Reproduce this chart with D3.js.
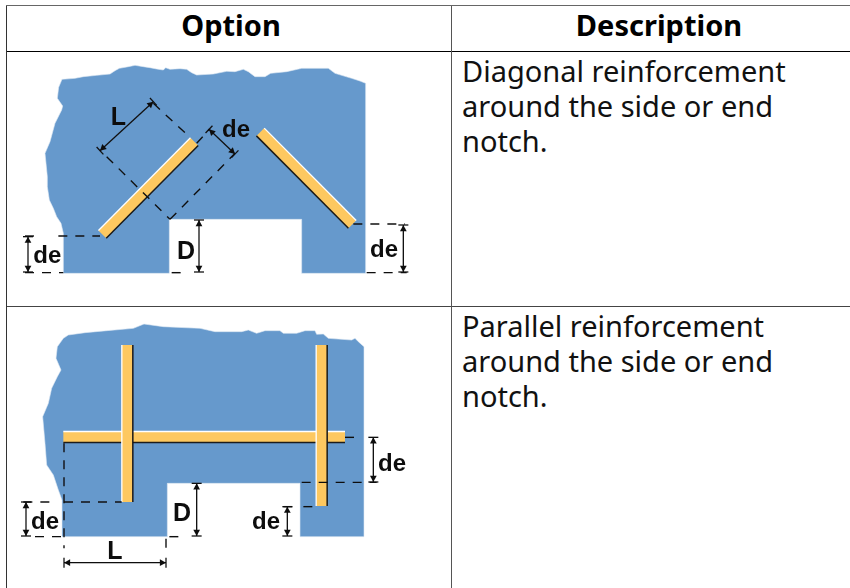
<!DOCTYPE html>
<html>
<head>
<meta charset="utf-8">
<script src="https://cdn.jsdelivr.net/npm/d3@7"></script>
<style>
html, body { margin: 0; padding: 0; background: #fff; }
svg { display: block; }
</style>
</head>
<body>
<svg id="chart" width="850" height="588">
  <defs>
    <filter id="soft" x="-5%" y="-5%" width="110%" height="110%"><feGaussianBlur stdDeviation="0.4"></feGaussianBlur></filter>
  </defs>
</svg>
<script>
// table text
var headers = ["Option", "Description"];
var descriptions = [
    ["Diagonal reinforcement", "around the side or end", "notch."],
    ["Parallel reinforcement", "around the side or end", "notch."]
];

// concrete outlines (units are 1/3 px)
var outline1 = [[190,820],[190,700],[183,670],[170,650],[160,625],[148,600],[142,560],[142,530],[135,460],[150,425],[165,370],[185,330],[188,318],[172,295],[176,262],[186,238],[225,235],[250,230],[290,226],[330,222],[345,212],[358,205],[385,200],[405,196],[430,200],[450,203],[470,207],[490,210],[497,203],[510,208],[540,206],[560,208],[575,218],[590,225],[640,222],[680,214],[705,215],[730,208],[745,215],[765,230],[795,230],[812,220],[860,215],[905,205],[985,205],[1005,220],[1055,235],[1080,243],[1097,250],[1097,820],[905,820],[905,658],[508,658],[508,820]];
var outline2 = [[186,710],[186,600],[175,570],[160,525],[140,495],[135,430],[128,350],[145,310],[155,265],[172,230],[183,210],[168,175],[172,140],[190,115],[205,105],[255,98],[320,92],[400,85],[432,72],[490,80],[600,85],[645,95],[725,95],[745,90],[770,100],[795,92],[840,92],[850,100],[890,100],[915,92],[945,92],[950,103],[970,102],[985,115],[1055,120],[1065,115],[1075,125],[1092,140],[1092,710],[900,710],[900,550],[502,550],[502,710]];

// reinforcing bars as [x1,y1,x2,y2] centre lines
var bars1 = [[307,703,583,425],[781,396,1057,673]];
var bars2 = [[190,411,1035,411],[382,135,382,606],[965,135,965,618]];

// dimension lines and dashed leaders
var arrows1 = [[300,452,460,305],[627,388,705,462],[84,710,84,816],[597,660,597,816],[1210,675,1210,816]];
var dashes1 = [[460,310,572,414],[320,470,510,658],[510,658,705,460],[590,430,628,388],[75,708,125,708],[175,708,300,708],[75,818,190,818],[515,818,550,818],[1060,672,1215,672],[1100,818,1220,818]];
var labels1 = [["L",355,375],["de",708,410],["de",142,790],["D",558,778],["de",1152,772]];

var arrows2 = [[192,788,498,788],[1120,412,1120,546],[590,550,590,708],[78,606,78,708],[862,620,862,708]];
var dashes2 = [[192,430,192,745],[192,606,365,606],[70,606,155,606],[105,710,190,710],[498,716,498,745],[508,710,545,710],[905,547,1130,547],[910,620,948,620],[850,620,888,620],[1035,412,1075,412]];
var labels2 = [["L",345,778],["de",1176,512],["de",135,688],["D",546,662],["de",798,688]];

var svg = d3.select("#chart");

// diagram units to page px
var x = d3.scaleLinear().domain([0, 3]).range([0, 1]);
var y1 = d3.scaleLinear().domain([0, 3]).range([0, 1]);
var y2 = d3.scaleLinear().domain([0, 3]).range([300, 301]);

function drawDiagram(outline, bars, dashes, arrows, labels, y) {
    var g = svg.append("g").attr("filter", "url(#soft)");
    var line = d3.line().x(function(d){ return x(d[0]); }).y(function(d){ return y(d[1]); });

    g.append("path")
     .attr("d", line(outline) + "Z")
     .attr("fill", "#6699cc")
     .attr("stroke", "#dfe9f4")
     .attr("stroke-width", 0.6);

    bars.forEach(function(b){
        var dx = x(b[2]) - x(b[0]), dy = y(b[3]) - y(b[1]);
        var len = Math.sqrt(dx*dx + dy*dy);
        var nx = -dy/len, ny = dx/len;
        // dark edge sits on the lower / right side
        if (ny < 0 || (ny == 0 && nx < 0)) { nx = -nx; ny = -ny; }
        var seg = function(off, col, w){
            g.append("line")
             .attr("x1", x(b[0]) + nx*off).attr("y1", y(b[1]) + ny*off)
             .attr("x2", x(b[2]) + nx*off).attr("y2", y(b[3]) + ny*off)
             .attr("stroke", col).attr("stroke-width", w);
        };
        seg(0, "#fdc860", 11);
        seg(5.5, "#1a1a1a", 1.5);
        seg(-5.5, "#ffffff", 1.3);
    });

    dashes.forEach(function(d){
        g.append("line")
         .attr("x1", x(d[0])).attr("y1", y(d[1]))
         .attr("x2", x(d[2])).attr("y2", y(d[3]))
         .attr("stroke", "#111").attr("stroke-width", 1.4)
         .attr("stroke-dasharray", "9,8");
    });

    arrows.forEach(function(d){
        var p1 = [x(d[0]), y(d[1])], p2 = [x(d[2]), y(d[3])];
        g.append("line")
         .attr("x1", p1[0]).attr("y1", p1[1]).attr("x2", p2[0]).attr("y2", p2[1])
         .attr("stroke", "#111").attr("stroke-width", 1.3);
        var a = Math.atan2(p2[1]-p1[1], p2[0]-p1[0]);
        [[p1, a], [p2, a + Math.PI]].forEach(function(e){
            var tip = e[0], t = e[1], s = 7;
            var tri = [tip,
                [tip[0] + s*Math.cos(t+0.5), tip[1] + s*Math.sin(t+0.5)],
                [tip[0] + s*Math.cos(t-0.5), tip[1] + s*Math.sin(t-0.5)]];
            g.append("path").attr("d", d3.line()(tri) + "Z").attr("fill", "#111");
            g.append("line")
             .attr("x1", tip[0] - 5*Math.sin(t)).attr("y1", tip[1] + 5*Math.cos(t))
             .attr("x2", tip[0] + 5*Math.sin(t)).attr("y2", tip[1] - 5*Math.cos(t))
             .attr("stroke", "#111").attr("stroke-width", 1.3);
        });
    });

    labels.forEach(function(l){
        g.append("text")
         .attr("x", x(l[1])).attr("y", y(l[2]))
         .attr("text-anchor", "middle")
         .attr("font-family", "'Liberation Sans'")
         .attr("font-weight", "bold")
         .attr("font-size", l[0] == "de" ? 24 : 25)
         .attr("fill", "#111")
         .text(l[0]);
    });
}

drawDiagram(outline1, bars1, dashes1, arrows1, labels1, y1);
drawDiagram(outline2, bars2, dashes2, arrows2, labels2, y2);

// table rules
var rules = [[6,5.5,850,5.5,"#666"],[6,51.5,850,51.5,"#000"],[6,306.5,850,306.5,"#444"],[6.5,6,6.5,588,"#333"],[451.5,6,451.5,588,"#555"]];
svg.selectAll(".rule").data(rules).enter().append("line")
   .attr("class", "rule")
   .attr("x1", function(d){ return d[0]; }).attr("y1", function(d){ return d[1]; })
   .attr("x2", function(d){ return d[2]; }).attr("y2", function(d){ return d[3]; })
   .attr("stroke", function(d){ return d[4]; }).attr("stroke-width", 1);

svg.selectAll(".head").data(headers).enter().append("text")
   .attr("class", "head")
   .attr("x", function(d, i){ return i == 0 ? 231 : 659; })
   .attr("y", 36)
   .attr("text-anchor", "middle")
   .attr("font-family", "'Noto Sans'")
   .attr("font-weight", "bold")
   .attr("font-size", 29)
   .attr("fill", "#000")
   .text(function(d){ return d; });

descriptions.forEach(function(lines, r){
    lines.forEach(function(t, i){
        svg.append("text")
           .attr("x", 462)
           .attr("y", (r == 0 ? 82 : 337) + i*34.8)
           .attr("font-family", "'Noto Sans'")
           .attr("font-size", 29)
           .attr("fill", "#111")
           .text(t);
    });
});
</script>
</body>
</html>
